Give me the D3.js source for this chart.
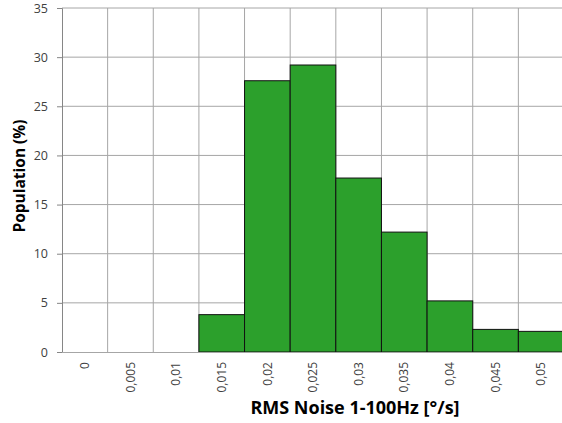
<!DOCTYPE html>
<html>
<head>
<meta charset="utf-8">
<script src="https://cdn.jsdelivr.net/npm/d3@7"></script>
<style>
  body { margin: 0; background: #fff; }
  text { font-family: "Open Sans", sans-serif; }
</style>
</head>
<body>
<svg width="562" height="423"></svg>
<script>
// histogram bins (RMS noise, °/s) and population share in %
const bins = ["0", "0,005", "0,01", "0,015", "0,02", "0,025", "0,03", "0,035", "0,04", "0,045", "0,05"];
const population = [0, 0, 0, 3.8, 27.6, 29.2, 17.7, 12.2, 5.2, 2.3, 2.1];
const yTicks = [0, 5, 10, 15, 20, 25, 30, 35];

const svg = d3.select("svg"),
      margin = {top: 8, left: 62},
      width = 502,
      height = 344;

const g = svg.append("g")
    .attr("transform", "translate(" + margin.left + "," + margin.top + ")");

let xScale = d3.scaleBand().domain(bins).range([0, width]).padding(0);
let yScale = d3.scaleLinear().domain([0, 35]).range([height, 0]);

// horizontal grid
g.append("g")
    .selectAll("line")
    .data(yTicks.slice(1))
    .enter().append("line")
    .attr("x1", 0).attr("x2", width)
    .attr("y1", d => yScale(d)).attr("y2", d => yScale(d))
    .attr("stroke", "#a6a6a6").attr("stroke-width", 1);

// vertical grid at bin edges
g.append("g")
    .selectAll("line")
    .data(bins.slice(1))
    .enter().append("line")
    .attr("x1", d => xScale(d)).attr("x2", d => xScale(d))
    .attr("y1", 0).attr("y2", height)
    .attr("stroke", "#a6a6a6").attr("stroke-width", 1);

// bars
g.append("g")
    .selectAll(".bar")
    .data(bins.map((b, i) => ({bin: b, value: population[i]})).filter(d => d.value > 0))
    .enter().append("rect")
    .attr("class", "bar")
    .attr("x", d => xScale(d.bin))
    .attr("y", d => yScale(d.value))
    .attr("width", xScale.bandwidth())
    .attr("height", d => height - yScale(d.value))
    .attr("fill", "#2ca02c")
    .attr("stroke", "#111")
    .attr("stroke-width", 1);

// y axis
const yAxis = g.append("g")
    .call(d3.axisLeft(yScale).tickValues(yTicks).tickSize(5).tickPadding(9));
yAxis.select(".domain").attr("stroke", "#868686");
yAxis.selectAll(".tick line").attr("stroke", "#868686");
yAxis.selectAll("text")
    .attr("fill", "#404040")
    .style("font-size", "12.5px")
    .style("font-family", "'Open Sans', sans-serif");

// x axis
const xAxis = g.append("g")
    .attr("transform", "translate(0," + height + ")")
    .call(d3.axisBottom(xScale).tickSize(0).tickPadding(0));
xAxis.select(".domain").attr("stroke", "#a6a6a6");
xAxis.selectAll("text")
    .attr("fill", "#404040")
    .style("font-size", "12px")
    .style("font-family", "'Open Sans', sans-serif")
    .attr("transform", "rotate(-90)")
    .attr("text-anchor", "end")
    .attr("x", -10)
    .attr("y", 0)
    .attr("dy", "0.35em");

// axis titles
svg.append("text")
    .attr("x", 355)
    .attr("y", 414)
    .attr("text-anchor", "middle")
    .style("font-size", "18px")
    .style("font-weight", "bold")
    .attr("fill", "#000")
    .text("RMS Noise 1-100Hz [°/s]");

svg.append("text")
    .attr("transform", "translate(25,176) rotate(-90)")
    .attr("text-anchor", "middle")
    .style("font-size", "15.5px")
    .style("font-weight", "bold")
    .attr("fill", "#000")
    .text("Population (%)");
</script>
</body>
</html>
